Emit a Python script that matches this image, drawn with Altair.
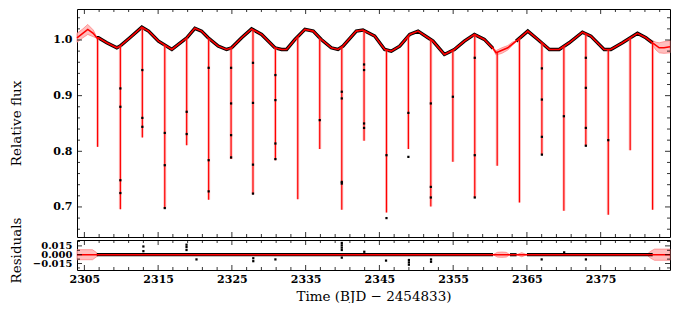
import altair as alt
import pandas as pd

# ---------------- data ----------------
# smooth model (spot modulation) knots
base_t = [2304.0, 2305.46, 2306.2, 2306.68, 2306.91, 2308.04, 2309.40, 2309.84, 2311.16, 2312.79,
          2313.70, 2315.05, 2316.86, 2318.89, 2319.98, 2320.89, 2321.78, 2323.14, 2324.28, 2324.96,
          2326.32, 2327.67, 2329.03, 2330.83, 2331.74, 2332.42, 2333.55, 2334.90, 2336.03, 2337.12,
          2338.47, 2339.38, 2340.06, 2341.87, 2342.77, 2344.36, 2345.72, 2346.61, 2347.75, 2349.11,
          2350.24, 2351.59, 2352.27, 2353.81, 2355.16, 2356.52, 2357.88, 2359.23, 2360.40, 2360.82,
          2362.41, 2363.54, 2365.12, 2366.48, 2368.05, 2369.37, 2370.73, 2372.53, 2373.67, 2375.47,
          2376.38, 2377.96, 2379.99, 2381.13, 2382.03, 2382.94, 2383.6, 2384.4]
base_f = [1.004, 1.019, 1.012, 1.004, 1.004, 0.995, 0.986, 0.989, 1.004, 1.023,
          1.016, 0.998, 0.983, 1.004, 1.021, 1.016, 1.004, 0.989, 0.983, 0.986,
          1.004, 1.020, 1.010, 0.986, 0.983, 0.983, 1.001, 1.019, 1.016, 1.001,
          0.986, 0.983, 0.989, 1.016, 1.018, 1.007, 0.983, 0.980, 0.989, 1.010,
          1.016, 1.004, 0.998, 0.974, 0.983, 0.998, 1.010, 1.001, 0.985, 0.977,
          0.986, 0.998, 1.016, 1.001, 0.983, 0.983, 0.995, 1.014, 1.007, 0.983,
          0.983, 0.995, 1.012, 1.004, 0.995, 0.986, 0.986, 0.988]

# observed-data coverage (start, end)
data_seg_start = [2306.68, 2363.54]
data_seg_end = [2360.40, 2382.03]

# eclipses: time, flux at eclipse edge, model minimum
ecl_t = [2306.79, 2309.88, 2312.86, 2315.90, 2318.87, 2321.85, 2324.89, 2327.86, 2330.90, 2333.93,
         2336.91, 2339.90, 2342.92, 2345.96, 2348.93, 2351.97, 2354.96, 2357.93, 2360.97, 2363.99,
         2367.03, 2370.01, 2372.99, 2376.03, 2379.00, 2382.04]
ecl_top = [1.004, 0.990, 1.022, 0.991, 1.004, 1.003, 0.986, 1.018, 0.986, 1.006,
           1.003, 0.988, 1.017, 0.982, 1.007, 1.001, 0.982, 1.010, 0.978, 1.003,
           0.995, 0.989, 1.011, 0.983, 1.004, 0.995]
ecl_depth = [0.808, 0.696, 0.825, 0.697, 0.811, 0.713, 0.786, 0.723, 0.784, 0.714,
             0.804, 0.695, 0.819, 0.690, 0.804, 0.701, 0.781, 0.717, 0.774, 0.708,
             0.794, 0.693, 0.810, 0.686, 0.802, 0.695]

# in-eclipse observations
dot_t = [2309.88, 2309.88, 2309.88, 2309.88, 2312.86, 2312.86, 2312.86,
         2315.90, 2315.90, 2315.90, 2318.87, 2318.87, 2321.85, 2321.85, 2321.85,
         2324.89, 2324.89, 2324.89, 2324.89, 2327.86, 2327.86, 2327.86, 2327.86,
         2330.90, 2330.90, 2330.90, 2330.90, 2336.91, 2339.90, 2339.90, 2339.90, 2339.90,
         2342.92, 2342.92, 2342.92, 2342.92, 2345.96, 2345.96, 2348.93, 2348.93,
         2351.97, 2351.97, 2351.97, 2354.96, 2357.93, 2357.93, 2357.93,
         2367.03, 2367.03, 2367.03, 2367.03, 2370.01, 2372.99, 2372.99, 2372.99, 2372.99, 2376.03]
dot_f = [0.913, 0.880, 0.748, 0.725, 0.946, 0.860, 0.844,
         0.833, 0.775, 0.698, 0.871, 0.831, 0.950, 0.784, 0.728,
         0.950, 0.886, 0.829, 0.789, 0.959, 0.887, 0.776, 0.724,
         0.937, 0.892, 0.814, 0.786, 0.856, 0.907, 0.895, 0.745, 0.742,
         0.956, 0.946, 0.850, 0.842, 0.793, 0.680, 0.869, 0.790,
         0.886, 0.736, 0.717, 0.898, 0.968, 0.793, 0.717,
         0.949, 0.893, 0.826, 0.794, 0.863, 0.968, 0.914, 0.842, 0.810, 0.820]

# model uncertainty bands (top panel)
band_seg = [0, 0, 0, 0, 0, 1, 1, 1, 1, 1, 1, 2, 2, 2, 2, 2, 2]
band_t = [2304.0, 2304.8, 2305.46, 2306.2, 2306.7,
          2360.4, 2360.82, 2361.6, 2362.41, 2363.0, 2363.5,
          2381.5, 2382.03, 2382.5, 2382.94, 2383.6, 2384.4]
band_lo = [0.996, 1.004, 1.010, 1.006, 1.003,
           0.984, 0.973, 0.976, 0.982, 0.990, 0.997,
           1.000, 0.991, 0.982, 0.977, 0.976, 0.977]
band_hi = [1.012, 1.020, 1.028, 1.018, 1.005,
           0.986, 0.981, 0.986, 0.990, 0.996, 0.999,
           1.002, 0.999, 0.996, 0.995, 0.997, 0.999]

# residual panel
res_band_seg = [0, 0, 0, 0, 1, 1, 1, 1, 1, 2, 2, 2, 3, 3, 3, 3]
res_band_t = [2304.0, 2306.1, 2306.6, 2307.0,
              2360.4, 2361.0, 2361.6, 2362.2, 2362.7,
              2363.6, 2364.3, 2365.0,
              2381.2, 2381.8, 2382.3, 2384.4]
res_band_lo = [-0.0085, -0.0085, -0.004, 0.0,
               0.0, -0.004, -0.0045, -0.004, 0.0,
               0.0, -0.0035, 0.0,
               0.0, -0.006, -0.0095, -0.0095]
res_band_hi = [0.0085, 0.0085, 0.004, 0.0,
               0.0, 0.004, 0.0045, 0.004, 0.0,
               0.0, 0.0035, 0.0,
               0.0, 0.006, 0.0095, 0.0095]
res_cov_start = [2306.68, 2362.7, 2365.0]
res_cov_end = [2360.4, 2363.6, 2382.05]
res_cov_level = [0.0, 0.0, 0.0]
res_out_t = [2313.0, 2313.0, 2318.85, 2318.85, 2318.85, 2320.2, 2327.9, 2327.9, 2330.9,
             2339.9, 2339.9, 2339.9, 2339.9, 2339.9, 2342.95, 2345.9, 2349.0, 2349.0, 2349.0,
             2352.0, 2352.0, 2367.0, 2373.0, 2370.05]
res_out_v = [0.014, 0.006, 0.017, 0.013, 0.008, -0.008, -0.006, -0.011, -0.008,
             0.020, 0.016, 0.012, 0.008, -0.005, 0.005, -0.010, -0.009, -0.013, -0.017,
             -0.008, -0.012, -0.008, -0.008, 0.004]
res_zero = [0.0]

# axis ticks / labels
x_major = [2305, 2315, 2325, 2335, 2345, 2355, 2365, 2375]
x_minor = [2307, 2309, 2311, 2313, 2317, 2319, 2321, 2323, 2327, 2329, 2331, 2333, 2337, 2339,
           2341, 2343, 2347, 2349, 2351, 2353, 2357, 2359, 2361, 2363, 2367, 2369, 2371, 2373,
           2377, 2379, 2381, 2383]
y1_major = [0.7, 0.8, 0.9, 1.0]
y1_minor = [0.66, 0.68, 0.72, 0.74, 0.76, 0.78, 0.82, 0.84, 0.86, 0.88, 0.92, 0.94, 0.96, 0.98,
            1.02, 1.04]
y2_major = [-0.015, 0.0, 0.015]
y2_minor = [-0.0225, -0.0075, 0.0075, 0.0225]

# ---------------- chart ----------------
W, H1, H2 = 593, 228, 30
FONT = "DejaVu Serif"
RED = "#ff0000"
xs = alt.Scale(domain=[2304.0, 2384.4], nice=False, zero=False)
ys1 = alt.Scale(domain=[0.646, 1.0557], nice=False, zero=False)
ys2 = alt.Scale(domain=[-0.026, 0.025], nice=False, zero=False)

rows = []
for s, (a, b) in enumerate(zip(data_seg_start, data_seg_end)):
    for t, f in zip(base_t, base_f):
        if a <= t <= b:
            rows.append({"t": t, "f": f, "seg": s})
obs = pd.DataFrame(rows)
model = pd.DataFrame({"t": base_t, "f": base_f})
band = pd.DataFrame({"t": band_t, "lo": band_lo, "hi": band_hi, "seg": band_seg})
ecl = pd.DataFrame({"t": ecl_t, "top": ecl_top, "bot": ecl_depth})
dots = pd.DataFrame({"t": dot_t, "f": dot_f})

yaxis1 = alt.Axis(values=y1_major, format=".1f", title="Relative flux", ticks=False, tickSize=0,
                  domain=False, grid=False, labelPadding=5, labelOverlap=False,
                  titleX=-61, titleY=H1 / 2, titleAngle=270, titleAlign="center",
                  titleBaseline="middle")
xaxis2 = alt.Axis(values=x_major, format="d", title="Time (BJD \u2212 2454833)", ticks=False,
                  tickSize=0, domain=False, grid=False, labelPadding=3, labelFlush=False,
                  labelOverlap=False, titlePadding=5)
yaxis2 = alt.Axis(values=y2_major, format=".3f", title="Residuals", ticks=False, tickSize=0,
                  domain=False, grid=False, labelPadding=5, labelOverlap=False, labelFontSize=10,
                  titleX=-61, titleY=H2 / 2 - 5, titleAngle=270, titleAlign="center",
                  titleBaseline="middle")


def X(field, xaxis):
    return alt.X(field, scale=xs, axis=xaxis)


def Y(field, ys, yaxis):
    return alt.Y(field, scale=ys, axis=yaxis)


def ticks_layers(H, xaxis):
    out = []
    for vals, length in ((x_major, 5), (x_minor, 3)):
        base = alt.Chart(pd.DataFrame({"t": vals})).mark_rule(color="black", strokeWidth=0.8)
        out.append(base.encode(x=X("t:Q", xaxis), y=alt.value(H), y2=alt.value(H - length)))
        out.append(base.encode(x=X("t:Q", xaxis), y=alt.value(0), y2=alt.value(length)))
    return out


def yticks_layers(majors, minors, ys, yaxis):
    out = []
    for vals, length in ((majors, 5), (minors, 3)):
        base = alt.Chart(pd.DataFrame({"v": vals})).mark_rule(color="black", strokeWidth=0.8)
        out.append(base.encode(y=Y("v:Q", ys, yaxis), x=alt.value(0), x2=alt.value(length)))
        out.append(base.encode(y=Y("v:Q", ys, yaxis), x=alt.value(W), x2=alt.value(W - length)))
    return out


xa1 = None  # top panel has no x labels
band_layer = alt.Chart(band).mark_area(fill="#ffb3b3", fillOpacity=0.85, stroke="#ff7a7a",
                                       strokeWidth=0.7).encode(
    x=X("t:Q", xa1), y=Y("lo:Q", ys1, yaxis1), y2="hi:Q", detail="seg:N")
obs_layer = alt.Chart(obs).mark_line(color="black", strokeWidth=3.4).encode(
    x=X("t:Q", xa1), y=Y("f:Q", ys1, yaxis1), detail="seg:N")
halo_layer = alt.Chart(ecl).mark_rule(color="#ff8c8c", strokeWidth=3.0, opacity=0.5).encode(
    x=X("t:Q", xa1), y=Y("top:Q", ys1, yaxis1), y2="bot:Q")
ecl_layer = alt.Chart(ecl).mark_rule(color=RED, strokeWidth=1.2).encode(
    x=X("t:Q", xa1), y=Y("top:Q", ys1, yaxis1), y2="bot:Q")
model_layer = alt.Chart(model).mark_line(color=RED, strokeWidth=1.6).encode(
    x=X("t:Q", xa1), y=Y("f:Q", ys1, yaxis1))
dot_layer = alt.Chart(dots).mark_square(color="black", size=5, opacity=1).encode(
    x=X("t:Q", xa1), y=Y("f:Q", ys1, yaxis1))

top = alt.layer(band_layer, obs_layer, halo_layer, ecl_layer, model_layer, dot_layer,
                *ticks_layers(H1, xa1),
                *yticks_layers(y1_major, y1_minor, ys1, yaxis1)).properties(width=W, height=H1)

rband = pd.DataFrame({"t": res_band_t, "lo": res_band_lo, "hi": res_band_hi, "seg": res_band_seg})
rcov = pd.DataFrame({"a": res_cov_start, "b": res_cov_end, "v": res_cov_level})
rout = pd.DataFrame({"t": res_out_t, "v": res_out_v})
rzero = pd.DataFrame({"v": res_zero})

rband_layer = alt.Chart(rband).mark_area(fill="#ffb3b3", fillOpacity=0.85, stroke="#ff7a7a",
                                         strokeWidth=0.7).encode(
    x=X("t:Q", xaxis2), y=Y("lo:Q", ys2, yaxis2), y2="hi:Q", detail="seg:N")
rcov_layer = alt.Chart(rcov).mark_rule(color="black", strokeWidth=3.2).encode(
    x=X("a:Q", xaxis2), x2="b:Q", y=Y("v:Q", ys2, yaxis2))
rout_layer = alt.Chart(rout).mark_square(color="black", size=5, opacity=1).encode(
    x=X("t:Q", xaxis2), y=Y("v:Q", ys2, yaxis2))
rzero_layer = alt.Chart(rzero).mark_rule(color=RED, strokeWidth=1.6).encode(
    x=alt.value(0), x2=alt.value(W), y=Y("v:Q", ys2, yaxis2))

bottom = alt.layer(rband_layer, rcov_layer, rout_layer, rzero_layer,
                   *ticks_layers(H2, xaxis2),
                   *yticks_layers(y2_major, y2_minor, ys2, yaxis2)).properties(width=W, height=H2)

chart = alt.vconcat(top, bottom, spacing=3, bounds="flush").configure(
    background="white", font=FONT, padding=0
).configure_view(stroke="black", strokeWidth=1).configure_axis(
    labelFont=FONT, titleFont=FONT, labelFontSize=11, labelFontWeight="bold",
    titleFontSize=13.5, titleFontWeight="normal", labelColor="black", titleColor="black"
)

chart.save("out.html", embed_options={"renderer": "svg", "actions": False})
